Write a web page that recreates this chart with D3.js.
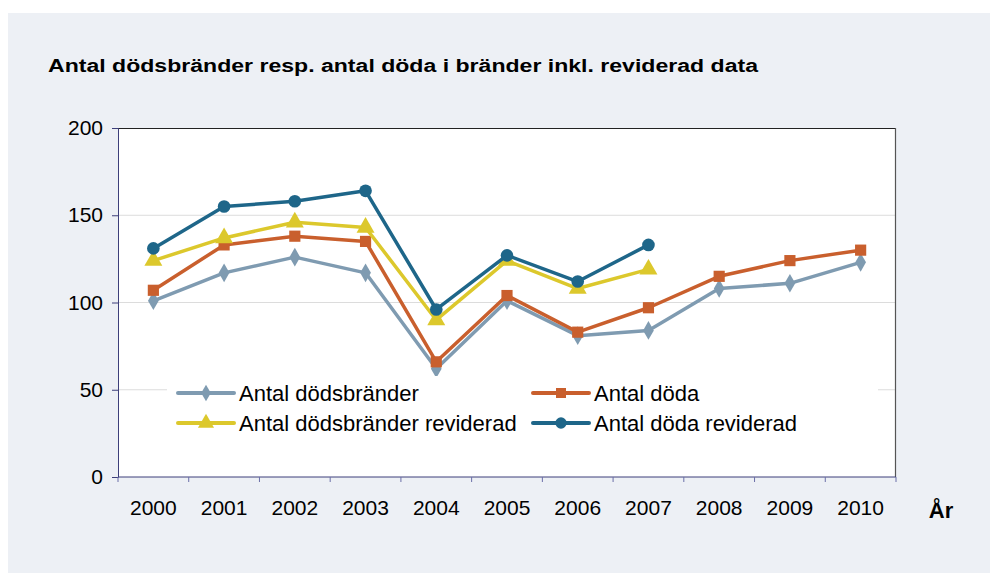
<!DOCTYPE html>
<html>
<head>
<meta charset="utf-8">
<script src="https://cdn.jsdelivr.net/npm/d3@7"></script>
<style>
  body { margin: 0; background: #fff; }
  text { font-family: "Liberation Sans", Arial, sans-serif; }
</style>
</head>
<body>
<div id="chart"></div>
<script>
// Data
var years = ["2000", "2001", "2002", "2003", "2004", "2005", "2006", "2007", "2008", "2009", "2010"];
var dodsbrander = [101, 117, 126, 117, 62, 101, 81, 84, 108, 111, 123];
var doda = [107, 133, 138, 135, 66, 104, 83, 97, 115, 124, 130];
var dodsbranderRev = [124, 137, 146, 143, 90, 124, 108, 119];
var dodaRev = [131, 155, 158, 164, 96, 127, 112, 133];
var yTicks = [0, 50, 100, 150, 200];

var series = [
  { name: "Antal dödsbränder", values: dodsbrander, color: "#7f9bb1", symbol: d3.symbolDiamond, size: 100 },
  { name: "Antal döda", values: doda, color: "#c95f2d", symbol: d3.symbolSquare, size: 125 },
  { name: "Antal dödsbränder reviderad", values: dodsbranderRev, color: "#dcc82c", symbol: d3.symbolTriangle, size: 140 },
  { name: "Antal döda reviderad", values: dodaRev, color: "#1e6689", symbol: d3.symbolCircle, size: 125 }
];

var svgWidth = 990;
var svgHeight = 573;

var margins = { top: 128, right: 94, bottom: 96, left: 118 };
var width = svgWidth - margins.left - margins.right;
var height = svgHeight - margins.top - margins.bottom;

var svg = d3.select("#chart")
  .append("svg")
  .attr("width", svgWidth)
  .attr("height", svgHeight);

// background panel
svg.append("rect")
  .attr("x", 8).attr("y", 13)
  .attr("width", svgWidth - 8).attr("height", svgHeight - 13)
  .attr("fill", "#edf0f5");

svg.append("text")
  .attr("x", 48).attr("y", 72)
  .attr("font-size", 17.5).attr("font-weight", "bold")
  .attr("textLength", 710).attr("lengthAdjust", "spacingAndGlyphs")
  .text("Antal dödsbränder resp. antal döda i bränder inkl. reviderad data");

var chartGroup = svg.append("g")
  .attr("transform", `translate(${margins.left}, ${margins.top})`);

// Scales
var xBand = d3.scaleBand().domain(years).range([0, width]);
var yLinearScale = d3.scaleLinear().domain([0, 200]).range([height, 0]);

// plot area
chartGroup.append("rect")
  .attr("width", width).attr("height", height)
  .attr("fill", "#ffffff");

// gridlines
chartGroup.selectAll(".grid")
  .data(yTicks.filter(d => d > 0 && d < 200))
  .enter().append("line")
  .attr("x1", 0).attr("x2", width)
  .attr("y1", d => yLinearScale(d)).attr("y2", d => yLinearScale(d))
  .attr("stroke", "#dcdcdc").attr("stroke-width", 1);

// top and right border
chartGroup.append("line")
  .attr("x1", 0).attr("x2", width).attr("y1", 0.5).attr("y2", 0.5)
  .attr("stroke", "#222").attr("stroke-width", 1);
chartGroup.append("line")
  .attr("x1", width - 0.5).attr("x2", width - 0.5).attr("y1", 0).attr("y2", height)
  .attr("stroke", "#555").attr("stroke-width", 1.2);

// Axes
var leftAxis = d3.axisLeft(yLinearScale).tickValues(yTicks).tickSizeOuter(0).tickSize(6).tickPadding(9);
var yAxisG = chartGroup.append("g").call(leftAxis);
yAxisG.select(".domain").attr("stroke", "#3d3f7a");
yAxisG.selectAll(".tick line").attr("stroke", "#3d3f7a");
yAxisG.selectAll("text").attr("font-size", 21).attr("fill", "#000")
  .attr("font-family", "Liberation Sans, Arial, sans-serif");

// x axis: ticks at category boundaries
var xAxisG = chartGroup.append("g").attr("transform", `translate(0, ${height})`);
xAxisG.append("line")
  .attr("x1", 0).attr("x2", width).attr("y1", 0).attr("y2", 0)
  .attr("stroke", "#3d3f7a");
xAxisG.selectAll(".xtick")
  .data(years.concat(["end"]))
  .enter().append("line")
  .attr("x1", (d, i) => i < years.length ? xBand(d) : width)
  .attr("x2", (d, i) => i < years.length ? xBand(d) : width)
  .attr("y1", 0).attr("y2", 5)
  .attr("stroke", "#6b6fa8");
xAxisG.selectAll(".xlabel")
  .data(years)
  .enter().append("text")
  .attr("x", d => xBand(d) + xBand.bandwidth() / 2)
  .attr("y", 38)
  .attr("text-anchor", "middle")
  .attr("font-size", 21)
  .text(d => d);

svg.append("text")
  .attr("x", 941).attr("y", 518)
  .attr("text-anchor", "middle")
  .attr("font-size", 22).attr("font-weight", "bold")
  .text("År");

// Lines
var cx = (d, i) => xBand(years[i]) + xBand.bandwidth() / 2;
var line = d3.line().x(cx).y(d => yLinearScale(d));

series.forEach(function(s) {
  var g = chartGroup.append("g");
  g.append("path")
    .datum(s.values)
    .attr("d", line)
    .attr("fill", "none")
    .attr("stroke", s.color)
    .attr("stroke-width", 3.5)
    .attr("stroke-linejoin", "round");
  g.selectAll("path.m")
    .data(s.values)
    .enter().append("path")
    .attr("class", "m")
    .attr("d", d3.symbol().type(s.symbol).size(s.size))
    .attr("transform", (d, i) => `translate(${cx(d, i)}, ${yLinearScale(d)})`)
    .attr("fill", s.color);
});

// Legend
var legend = svg.append("g");
legend.append("rect")
  .attr("x", 167).attr("y", 376)
  .attr("width", 711).attr("height", 64)
  .attr("fill", "#ffffff");

var legendPos = [[178, 393], [533, 393], [178, 423], [533, 423]];
series.forEach(function(s, i) {
  var p = legendPos[i];
  var item = legend.append("g").attr("transform", `translate(${p[0]}, ${p[1]})`);
  item.append("line")
    .attr("x1", 0).attr("x2", 56).attr("y1", 0).attr("y2", 0)
    .attr("stroke", s.color).attr("stroke-width", 4)
    .attr("stroke-linecap", "round");
  item.append("path")
    .attr("d", d3.symbol().type(s.symbol).size(s.size * 0.8))
    .attr("transform", "translate(28, 0)")
    .attr("fill", s.color);
  item.append("text")
    .attr("x", 61).attr("y", 8)
    .attr("font-size", 22)
    .text(s.name);
});
</script>
</body>
</html>
